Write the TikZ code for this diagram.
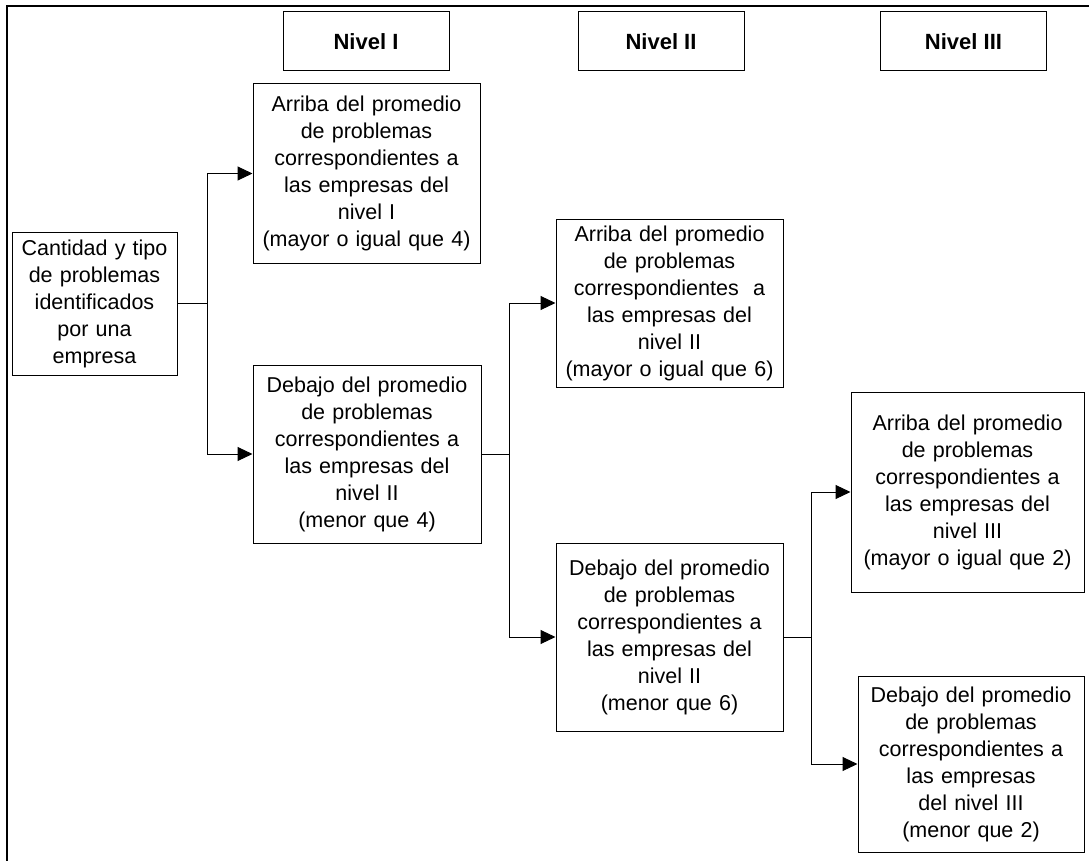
\documentclass[tikz,border=0pt]{standalone}
\usepackage{fontspec}
\setmainfont{Liberation Sans}
\usetikzlibrary{arrows.meta}
\begin{document}
\begin{tikzpicture}[x=1pt,y=-1pt,
  box/.style 2 args={draw, line width=1pt, minimum width=#1pt, minimum height=#2pt, inner sep=1pt, align=center, text width=220pt, font=\fontsize{21.5}{27}\selectfont},
  narrow/.style={text width=158pt},
  lvl/.style={draw, line width=1pt, minimum width=166pt, minimum height=59pt, inner sep=0pt, align=center, font=\fontsize{22}{27}\selectfont\bfseries},
  conn/.style={line width=1pt},
  arr/.style={line width=1pt, -{Triangle[length=15pt,width=14pt]}}]
\useasboundingbox (0,0) rectangle (1089,861);
\draw[line width=2.5pt] (7,861) -- (7,6) -- (1089,6);

\node[lvl] (n1) at (366,41.5) {Nivel I};
\node[lvl] (n2) at (661,41.5) {Nivel II};
\node[lvl] (n3) at (963.5,41.5) {Nivel III};

\node[box={165}{143}, narrow] (src) at (94.5,303.5) {Cantidad y tipo\\de problemas\\identificados\\por una\\empresa};
\node[box={227}{179}] (A) at (366.5,173.5) {Arriba del promedio\\de problemas\\correspondientes a\\las empresas del\\nivel I\\(mayor o igual que 4)};
\node[box={228}{178}] (B) at (367,454) {Debajo del promedio\\de problemas\\correspondientes a\\las empresas del\\nivel II\\(menor que 4)};
\node[box={227}{168}] (C) at (669.5,303) {Arriba del promedio\\de problemas\\correspondientes\ \ a\\las empresas del\\nivel II\\(mayor o igual que 6)};
\node[box={227}{188}] (D) at (669.5,637) {Debajo del promedio\\de problemas\\correspondientes a\\las empresas del\\nivel II\\(menor que 6)};
\node[box={233}{200}] (E) at (967.5,492) {Arriba del promedio\\de problemas\\correspondientes a\\las empresas del\\nivel III\\(mayor o igual que 2)};
\node[box={226}{176}] (F) at (971,764) {Debajo del promedio\\de problemas\\correspondientes a\\las empresas\\del nivel III\\(menor que 2)};

\draw[conn] (src.east) -- ++(30,0) coordinate (j1);
\draw[arr] (j1) |- (A.west);
\draw[arr] (j1) |- (B.west);

\draw[conn] (B.east) -- ++(28,0) coordinate (j2);
\draw[arr] (j2) |- (C.west);
\draw[arr] (j2) |- (D.west);

\draw[conn] (D.east) -- ++(28,0) coordinate (j3);
\draw[arr] (j3) |- (E.west);
\draw[arr] (j3) |- (F.west);
\end{tikzpicture}
\end{document}
